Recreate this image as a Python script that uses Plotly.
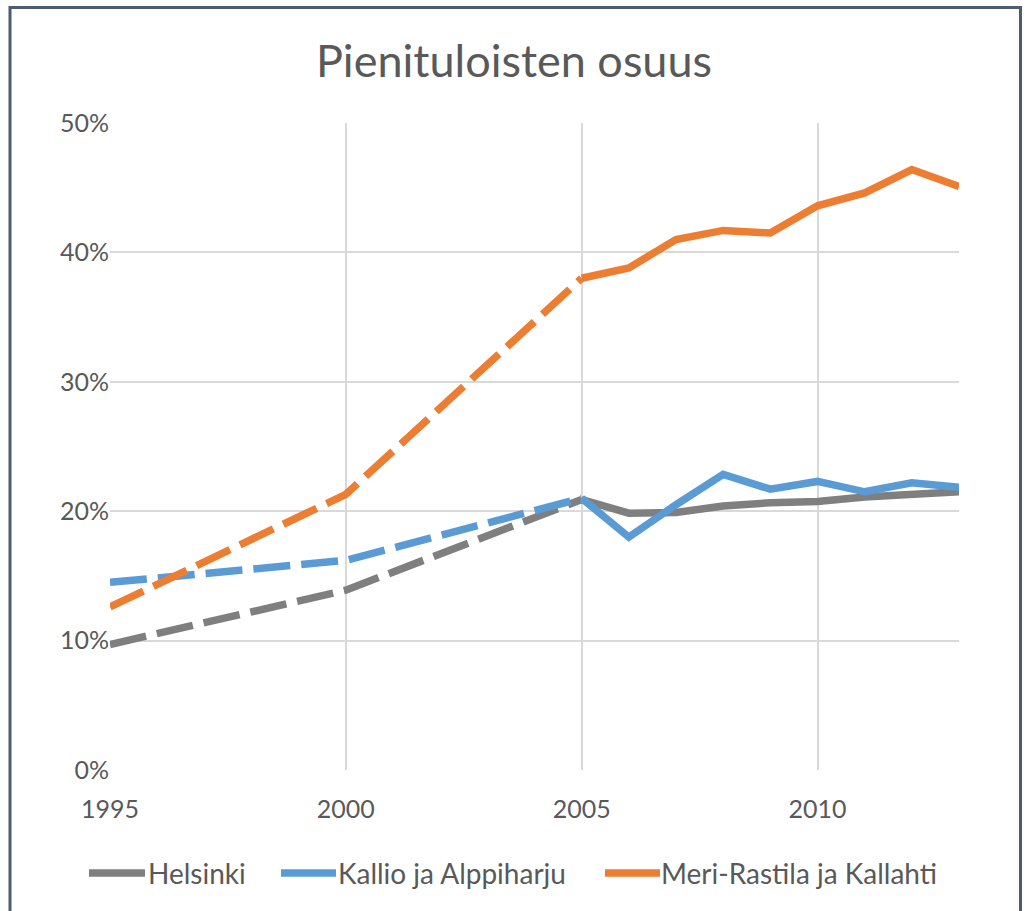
import plotly.graph_objects as go

# ---- data ----
years_dashed = [1995, 2000, 2005]
years_solid = [2005, 2006, 2007, 2008, 2009, 2010, 2011, 2012, 2013]

helsinki_dashed = [9.7, 13.9, 20.9]
helsinki_solid = [20.9, 19.85, 19.9, 20.4, 20.65, 20.75, 21.1, 21.3, 21.5]

kallio_dashed = [14.5, 16.2, 21.0]
kallio_solid = [21.0, 18.0, 20.5, 22.85, 21.7, 22.3, 21.5, 22.2, 21.85]

meri_dashed = [12.6, 21.3, 38.0]
meri_solid = [38.0, 38.8, 41.0, 41.7, 41.5, 43.6, 44.6, 46.4, 45.1]

series_names = ["Helsinki", "Kallio ja Alppiharju", "Meri-Rastila ja Kallahti"]
series_colors = ["#7f7f7f", "#5b9bd5", "#ed7d31"]

y_ticks = [0, 10, 20, 30, 40, 50]
y_tick_labels = ["0%", "10%", "20%", "30%", "40%", "50%"]
x_ticks = [1995, 2000, 2005, 2010]
title_text = "Pienituloisten osuus"

FONT = "Lato"
TXT = "#595959"

fig = go.Figure()
dashed_all = [helsinki_dashed, kallio_dashed, meri_dashed]
solid_all = [helsinki_solid, kallio_solid, meri_solid]
for name, col, yd, ys in zip(series_names, series_colors, dashed_all, solid_all):
    fig.add_trace(go.Scatter(
        x=years_dashed, y=yd, mode="lines", name=name + " (arvio)",
        showlegend=False, line=dict(color=col, width=7.5, dash="37px,11px"),
        hoverinfo="skip"))
    fig.add_trace(go.Scatter(
        x=years_solid, y=ys, mode="lines", name=name,
        showlegend=False, line=dict(color=col, width=7.5)))

# plot area: left 110, right 959, top 123, bottom 770
W, H = 1028, 911
L, R, T, B = 110, 959, 123, 770
pw, ph = R - L, B - T

def px_to_paper_x(px):
    return (px - L) / pw

def px_to_paper_y(py):
    return (B - py) / ph

# outer chart frame
fig.add_shape(type="rect", xref="paper", yref="paper",
              x0=px_to_paper_x(10), x1=px_to_paper_x(1020.5),
              y0=px_to_paper_y(930), y1=px_to_paper_y(7.5),
              line=dict(color="#4d5b73", width=3), fillcolor="rgba(0,0,0,0)",
              layer="above")

# legend (Excel-style: long line sample followed by the series name)
legend_y = px_to_paper_y(873)
legend_sample_x = [(89, 145), (281, 336), (605, 660)]
legend_text_x = [146, 336, 659]
for name, col, (sx0, sx1), tx in zip(series_names, series_colors,
                                     legend_sample_x, legend_text_x):
    fig.add_shape(type="line", xref="paper", yref="paper",
                  x0=px_to_paper_x(sx0), x1=px_to_paper_x(sx1),
                  y0=legend_y, y1=legend_y,
                  line=dict(color=col, width=7.5))
    fig.add_annotation(text=name, xref="paper", yref="paper",
                       x=px_to_paper_x(tx), y=legend_y,
                       xanchor="left", yanchor="middle", showarrow=False,
                       font=dict(family=FONT, size=28, color=TXT))

fig.update_layout(
    width=W, height=H, autosize=False,
    margin=dict(l=L, r=W - R, t=T, b=H - B, pad=0, autoexpand=False),
    paper_bgcolor="white", plot_bgcolor="white",
    font=dict(family=FONT, color=TXT, size=25),
    title=dict(text=title_text, x=0.5, xref="container", xanchor="center",
               y=1 - 61 / H, yref="container", yanchor="middle",
               font=dict(family=FONT, size=45, color=TXT)),
    showlegend=False,
    xaxis=dict(range=[1995, 2013], tickvals=x_ticks, showgrid=True,
               gridcolor="#d9d9d9", gridwidth=1.5, zeroline=False,
               showline=False, ticks="", ticklabelstandoff=22,
               tickfont=dict(family=FONT, size=25, color=TXT)),
    yaxis=dict(range=[0, 50], tickvals=y_ticks, ticktext=y_tick_labels,
               showgrid=True, gridcolor="#d9d9d9", gridwidth=1.5,
               zeroline=False, showline=False, ticks="",
               tickfont=dict(family=FONT, size=25, color=TXT)),
)

fig.write_html("out.html", config={"displayModeBar": False},
               post_script="document.body.style.margin='0';document.body.style.overflow='hidden';")
